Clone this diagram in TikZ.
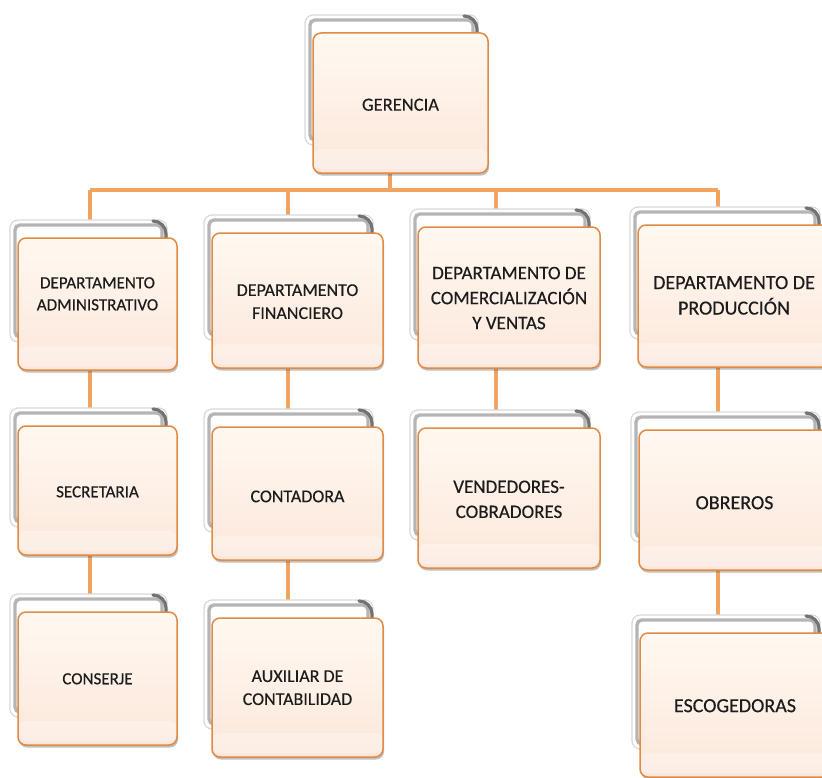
\documentclass[tikz,border=0pt]{standalone}
\usepackage{fontspec}
\setmainfont{Carlito}
\newfontfamily\cardfont{Carlito}[FakeBold=0.35]
\usetikzlibrary{fit,shadows}

\definecolor{lineorange}{RGB}{241,163,96}
\definecolor{edgeorange}{RGB}{224,138,68}
\definecolor{creamtop}{RGB}{255,249,241}
\definecolor{creambot}{RGB}{252,231,219}
\definecolor{labelink}{RGB}{28,28,28}

\pgfdeclarelayer{paper}
\pgfdeclarelayer{wires}
\pgfsetlayers{paper,wires,main}

% one chart unit: a bevelled grey frame behind a cream card
% #1 name, #2 extra options, #3 left, #4 top, #5 right, #6 bottom,
% #7 label, #8 how far the label is lowered
\newcommand\orgunit[8]{%
  \path[frameouter] (#3-8,#4-18) rectangle (#5-10,#6-28);
  \path[frameinner] (#3-3,#4-13) rectangle (#5-15,#6-33);
  \draw[framecorner] (#5-24,#4-17) to[out=0,in=90] (#5-11,#4-4) -- (#5-11,#4+4);
  \node[frontbox,#2,fit={(#3,#4) (#5,#6)}] (#1)
    {\raisebox{-#8bp}[\height][\depth]{\begin{tabular}{@{}c@{}}#7\end{tabular}}};
}

\tikzset{
  x=1bp, y=-1bp,
  frameouter/.style={rounded corners=8bp, fill=white, draw=gray!30, line width=1.2bp},
  frameinner/.style={rounded corners=5bp, draw=gray!58, line width=3.4bp},
  framecorner/.style={draw=black!55, line width=3.2bp, line cap=round},
  frontbox/.style={rounded corners=8bp, draw=edgeorange, line width=1.5bp,
    top color=creamtop, bottom color=creambot, inner sep=0pt,
    align=center, text=labelink,
    drop shadow={shadow xshift=1bp, shadow yshift=-2.5bp, opacity=0.35, fill=black!70},
    path picture={\fill[white, opacity=0.3]
      ([yshift=4bp]path picture bounding box.south west) rectangle
      ([yshift=24bp]path picture bounding box.south east);}},
  fsG/.style={font=\cardfont\fontsize{18.5bp}{23bp}\selectfont},
  fsA/.style={font=\cardfont\fontsize{17bp}{22bp}\selectfont},
  fsB/.style={font=\cardfont\fontsize{18bp}{23bp}\selectfont},
  fsC/.style={font=\cardfont\fontsize{19bp}{25bp}\selectfont},
  fsD/.style={font=\cardfont\fontsize{20bp}{25.5bp}\selectfont},
  conn/.style={draw=lineorange, line width=3.2bp}
}

\begin{document}
\begin{tikzpicture}
\useasboundingbox (0,0) rectangle (822,778);
\clip (0,0) rectangle (822,778);
\begin{pgfonlayer}{paper}
  \fill[white] (0,0) rectangle (822,778);
\end{pgfonlayer}

% top level
\orgunit{ger}{fsG}{313}{33}{488}{173}{GERENCIA}{11}

% departments
\orgunit{adm}{fsA}{18}{238}{177}{370}{DEPARTAMENTO\\ADMINISTRATIVO}{4}
\orgunit{fin}{fsB}{212}{233}{383}{368}{DEPARTAMENTO\\FINANCIERO}{16}
\orgunit{com}{fsC}{418}{227}{600}{368}{DEPARTAMENTO DE\\COMERCIALIZACIÓN\\Y VENTAS}{23}
\orgunit{pro}{fsD}{638}{225}{830}{367}{DEPARTAMENTO DE\\PRODUCCIÓN}{16}

% second level
\orgunit{sec}{fsA}{18}{426}{177}{555}{SECRETARIA}{10}
\orgunit{cnt}{fsB}{212}{427}{383}{560}{CONTADORA}{12}
\orgunit{ven}{fsC}{418}{428}{600}{568}{VENDEDORES-\\COBRADORES}{17.5}
\orgunit{obr}{fsD}{639}{430}{830}{570}{OBREROS}{13}

% third level
\orgunit{con}{fsA}{18}{612}{177}{745}{CONSERJE}{9}
\orgunit{aux}{fsB}{212}{618}{383}{757}{AUXILIAR DE\\CONTABILIDAD}{15}
\orgunit{esc}{fsD}{640}{633}{830}{777}{ESCOGEDORAS}{11}

% bus and column drops
\coordinate (busW) at (90,190);
\coordinate (busG) at (390,190);
\coordinate (busB) at (288,190);
\coordinate (busC) at (496,190);
\coordinate (busE) at (718,190);

\begin{pgfonlayer}{wires}
  \draw[conn] (busW) -- (busE);
  \draw[conn] (ger.south -| busG) -- (busG);
  \draw[conn] (busW) -- (busW |- adm.north);
  \draw[conn] (busB) -- (busB |- fin.north);
  \draw[conn] (busC) -- (busC |- com.north);
  \draw[conn] (busE) -- (busE |- pro.north);
  \draw[conn] (adm.south -| busW) -- (sec.north -| busW);
  \draw[conn] (sec.south -| busW) -- (con.north -| busW);
  \draw[conn] (fin.south -| busB) -- (cnt.north -| busB);
  \draw[conn] (cnt.south -| busB) -- (aux.north -| busB);
  \draw[conn] (com.south -| busC) -- (ven.north -| busC);
  \draw[conn] (pro.south -| busE) -- (obr.north -| busE);
  \draw[conn] (obr.south -| busE) -- (esc.north -| busE);
\end{pgfonlayer}
\end{tikzpicture}
\end{document}
